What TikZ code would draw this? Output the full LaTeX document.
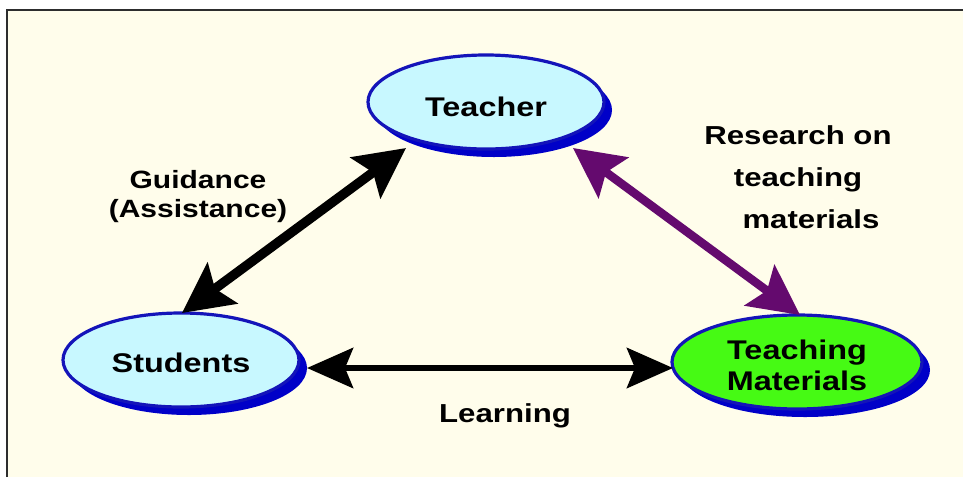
\documentclass[tikz,border=0pt]{standalone}
\usepackage{fontspec}
\setmainfont{Liberation Sans}[FakeStretch=1.2]
\usetikzlibrary{arrows.meta,shapes.geometric,shadows}
\definecolor{cream}{RGB}{255,253,235}
\definecolor{framegray}{RGB}{45,45,45}
\definecolor{ellborder}{RGB}{20,20,185}
\definecolor{shadowblue}{RGB}{0,0,200}
\definecolor{lightcyan}{RGB}{200,248,255}
\definecolor{brightgreen}{RGB}{70,250,20}
\definecolor{arrowpurple}{RGB}{100,10,110}
\tikzset{
  ell/.style={ellipse, draw=ellborder, line width=3.2pt, minimum width=236pt,
    minimum height=94pt, inner sep=0pt, align=center,
    font=\bfseries\fontsize{27}{31}\selectfont,
    drop shadow={shadow xshift=8pt, shadow yshift=-8pt, fill=shadowblue, opacity=1}},
  lbl/.style={font=\bfseries\fontsize{25}{29}\selectfont, align=center, text=black},
  dbl/.style={line width=#1,
    {Stealth[length=50pt,width=50pt,inset=9pt]}-{Stealth[length=50pt,width=50pt,inset=9pt]}},
  hdbl/.style={line width=#1,
    {Stealth[length=46pt,width=40pt,inset=8pt]}-{Stealth[length=46pt,width=40pt,inset=8pt]}}
}
\begin{document}
\begin{tikzpicture}[x=1pt,y=-1pt]
\useasboundingbox (0,0) rectangle (963,477);
\fill[white] (0,0) rectangle (963,477);
\fill[cream] (7,10) rectangle (963,477);
\draw[framegray, line width=2pt] (7,477) -- (7,10) -- (963,10);

\node[ell, fill=lightcyan] (tea) at (486,102) {\raisebox{-5pt}[\height][\depth]{Teacher}};
\node[ell, fill=lightcyan] (stu) at (181,360) {\raisebox{-3pt}[\height][\depth]{Students}};
\node[ell, fill=brightgreen, minimum width=250pt] (tm) at (797,362) {\raisebox{-3pt}[\height][\depth]{Teaching}\\\raisebox{-3pt}[\height][\depth]{Materials}};

\draw[dbl=9.5pt, black] ([shift={(1,-47)}]stu.center) -- ([shift={(-80,46)}]tea.center);
\draw[dbl=8.5pt, arrowpurple] ([shift={(87,46)}]tea.center) -- ([shift={(3,-47)}]tm.center);
\draw[hdbl=6.5pt, black] ([shift={(126,8)}]stu.center) -- ([shift={(-124,6)}]tm.center);

\node[lbl] (guid) at (198,197) {Guidance\\(Assistance)};
\node[lbl, font=\bfseries\fontsize{26}{42}\selectfont] (res) at (798,177) {Research on\\teaching\\\hspace*{26pt}materials};
\node[lbl, font=\bfseries\fontsize{26}{29}\selectfont] (learn) at (505,416) {Learning};
\end{tikzpicture}
\end{document}
